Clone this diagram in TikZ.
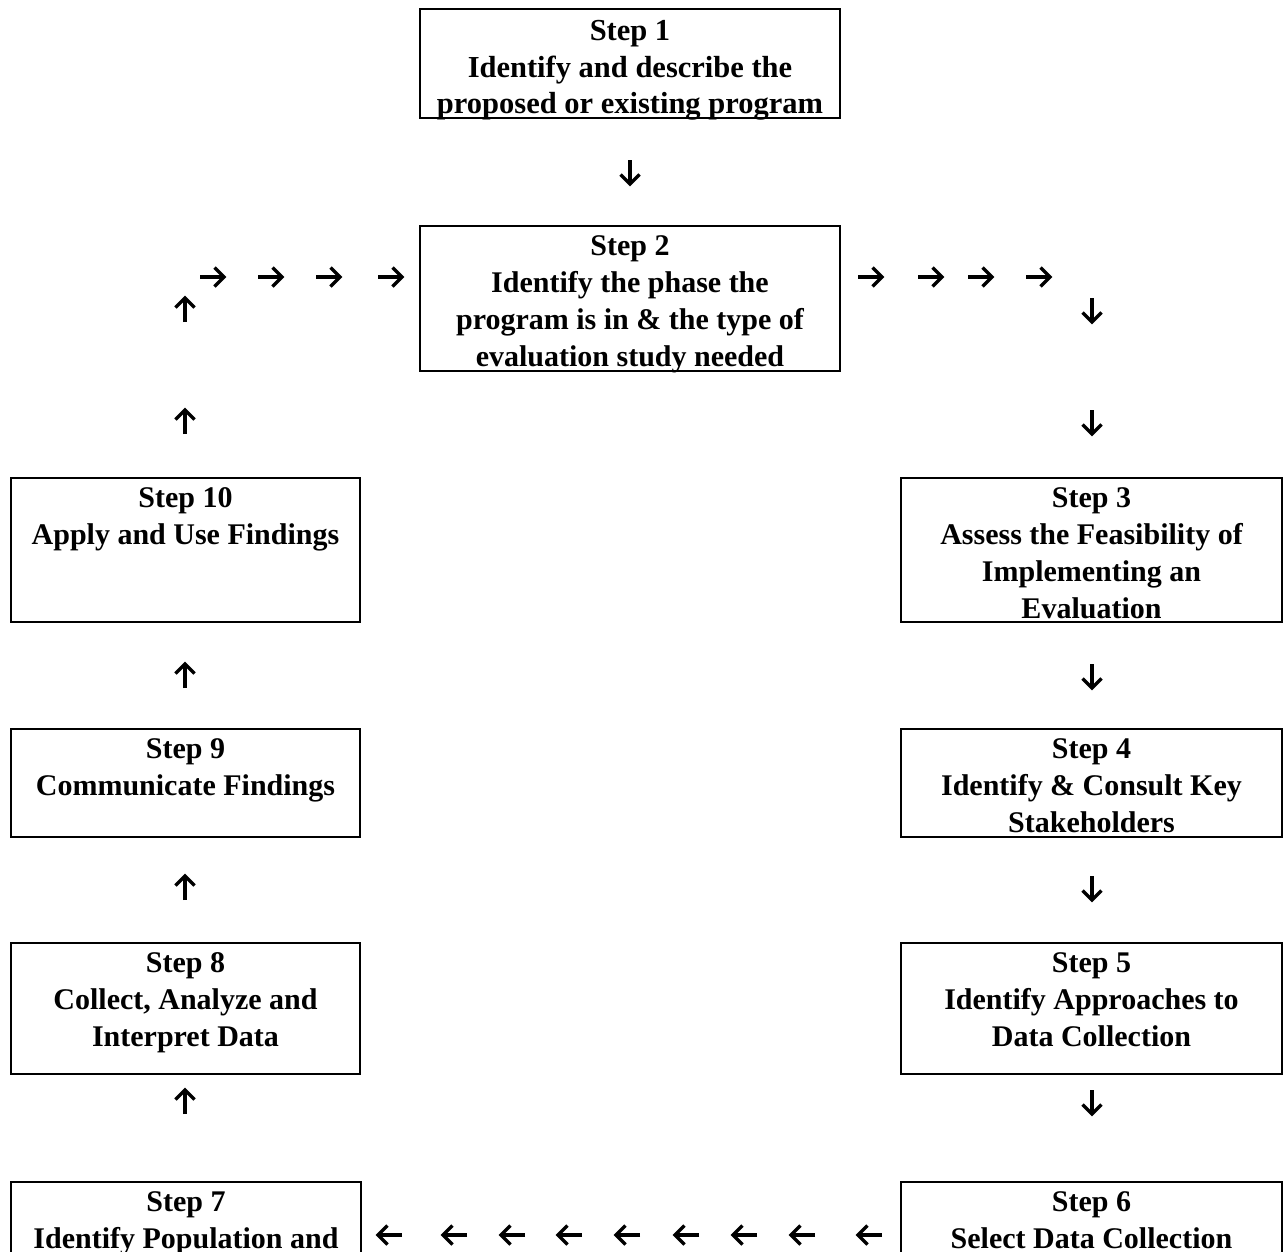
\documentclass[tikz,border=0pt]{standalone}
\usepackage{fontspec}
\setmainfont{Liberation Serif}
\begin{document}
\begin{tikzpicture}[x=1pt,y=-1pt,
  box/.style={draw, line width=2.5pt, rectangle, inner sep=0pt},
  txt/.style={anchor=north, align=center, inner sep=0pt, font=\bfseries\fontsize{30}{37}\selectfont},
  glyph/.style={line width=3.4pt},
  pics/rarr/.style={code={
    \draw[glyph] (-12,0) -- (11,0);
    \draw[glyph, line join=miter] (2.5,-9.5) -- (12,0) -- (2.5,9.5);}}
]
\useasboundingbox (0,0) rectangle (1284,1251);
\clip (0,0) rectangle (1284,1251);

% boxes
\node[box, minimum width=420pt, minimum height=109pt] (s1) at (630,63.5) {};
\node[box, minimum width=420pt, minimum height=145pt] (s2) at (630,298.5) {};
\node[box, minimum width=349pt, minimum height=144pt] (s10) at (185.5,550) {};
\node[box, minimum width=381pt, minimum height=144pt] (s3) at (1091.5,550) {};
\node[box, minimum width=349pt, minimum height=108pt] (s9) at (185.5,783) {};
\node[box, minimum width=381pt, minimum height=108pt] (s4) at (1091.5,783) {};
\node[box, minimum width=349pt, minimum height=131pt] (s8) at (185.5,1008.5) {};
\node[box, minimum width=381pt, minimum height=131pt] (s5) at (1091.5,1008.5) {};
\node[box, minimum width=350pt, minimum height=118pt] (s7) at (186,1241) {};
\node[box, minimum width=381pt, minimum height=118pt] (s6) at (1091.5,1241) {};

% texts
\node[txt, font=\bfseries\fontsize{30.5}{36.5}\selectfont] (t1) at ([yshift=-12.5pt]s1.north) {Step 1\\Identify and describe the\\proposed or existing program};
\node[txt] (t2) at ([yshift=-11pt]s2.north) {Step 2\\Identify the phase the\\program is in \& the type of\\evaluation study needed};
\node[txt] (t10) at ([yshift=-11pt]s10.north) {Step 10\\Apply and Use Findings};
\node[txt] (t3) at ([yshift=-11pt]s3.north) {Step 3\\Assess the Feasibility of\\Implementing an\\Evaluation};
\node[txt] (t9) at ([yshift=-11pt]s9.north) {Step 9\\Communicate Findings};
\node[txt] (t4) at ([yshift=-11pt]s4.north) {Step 4\\Identify \& Consult Key\\Stakeholders};
\node[txt] (t8) at ([yshift=-11pt]s8.north) {Step 8\\Collect, Analyze and\\Interpret Data};
\node[txt] (t5) at ([yshift=-11pt]s5.north) {Step 5\\Identify Approaches to\\Data Collection};
\node[txt] (t7) at ([yshift=-11pt]s7.north) {Step 7\\Identify Population and};
\node[txt] (t6) at ([yshift=-11pt]s6.north) {Step 6\\Select Data Collection};

% arrow glyphs
\pic[rotate=-90] at (630,172) {rarr};
\foreach \x in {212,270,328,390} {\pic at (\x,277) {rarr};}
\pic[rotate=90] at (185,310) {rarr};
\foreach \x in {870,930,980,1038} {\pic at (\x,277) {rarr};}
\pic[rotate=-90] at (1092,310) {rarr};
\foreach \y in {422,676,888,1102} {
  \pic[rotate=90] at (185,\y) {rarr};
  \pic[rotate=-90] at (1092,\y) {rarr};
}
\foreach \x in {390,455,513,570,628,687,745,803,870} {\pic[rotate=180] at (\x,1235) {rarr};}
\end{tikzpicture}
\end{document}
